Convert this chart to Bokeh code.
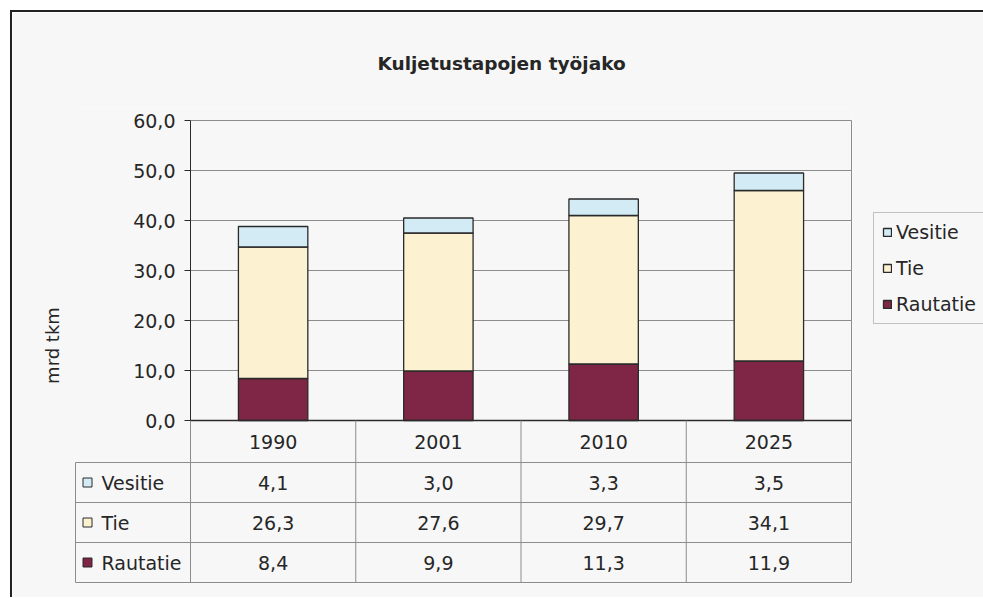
from bokeh.plotting import figure
from bokeh.models import (ColumnDataSource, Range1d, Legend, LegendItem, FixedTicker,
                          LinearAxis)
from bokeh.layouts import column
from bokeh.embed import file_html
from bokeh.resources import INLINE
from bokeh.core.properties import value

# ---------------- data ----------------
title_text = "Kuljetustapojen työjako"
y_label = "mrd tkm"
categories = ["1990", "2001", "2010", "2025"]
series = ["Rautatie", "Tie", "Vesitie"]
rautatie = [8.4, 9.9, 11.3, 11.9]
tie = [26.3, 27.6, 29.7, 34.1]
vesitie = [4.1, 3.0, 3.3, 3.5]
y_ticks = [0, 10, 20, 30, 40, 50, 60]

# ---------------- style ----------------
colors = ["#7f2545", "#fcf2d2", "#d2ebf4"]
FONT = "DejaVu Sans"
BG = "#f7f7f7"
TXT = "#262626"
GRID = "#8c8c8c"
DARK = "#2a2a2a"


def fmt(v):
    return f"{v:.1f}".replace(".", ",")


values = {"Rautatie": rautatie, "Tie": tie, "Vesitie": vesitie}
ncat = len(categories)
nser = len(series)
xc = [i + 0.5 for i in range(ncat)]
src = ColumnDataSource(dict(xc=xc, **values))

# layout geometry (pixels)
ppc = 661 / ncat          # pixels per category column
ppu = 300 / 60            # pixels per value unit
x0 = -115 / ppc           # left edge of the data-table label column
header_u = 42 / ppu       # category-label row height (value units)
row_u = 40 / ppu          # data-table row height (value units)
y_bottom = -header_u - nser * row_u
pad_x, pad_y = 1 / ppc, 1 / ppu
top_pad = 13 / ppu        # room above the top tick label

p = figure(x_range=Range1d(x0 - pad_x, ncat + pad_x),
           y_range=Range1d(y_bottom - pad_y, y_ticks[-1] + top_pad),
           frame_width=778, frame_height=476,
           min_border_left=62, min_border_right=130,
           min_border_top=95, min_border_bottom=14,
           output_backend="svg", toolbar_location=None,
           background_fill_color=BG, border_fill_color=BG,
           outline_line_color=None)

# the default category axis is replaced by the data table below
for ax in list(p.below):
    ax.visible = False
p.grid.visible = False

# title
p.title.text = title_text
p.title.align = "left"
p.title.offset = 303
p.title.standoff = 68
p.title.text_font = FONT
p.title.text_font_style = "bold"
p.title.text_font_size = "18.5px"
p.title.text_color = TXT

# horizontal grid lines of the plot area
gy = y_ticks[1:]
p.segment(x0=[0] * len(gy), y0=gy, x1=[ncat] * len(gy), y1=gy,
          line_color=GRID, line_width=1)
# right edge of the plot area
p.segment(x0=[ncat], y0=[0], x1=[ncat], y1=[y_ticks[-1]], line_color=GRID, line_width=1)

# bars
rs = p.vbar_stack(series, x="xc", width=0.42, source=src,
                  fill_color=colors, line_color=DARK, line_width=1.3)

# category axis baseline
p.segment(x0=[0], y0=[0], x1=[ncat], y1=[0], line_color=DARK, line_width=1.5)

# y axis drawn at x = 0
ya = p.left[0]
ya.fixed_location = 0
ya.bounds = (y_ticks[0], y_ticks[-1])
ya.ticker = FixedTicker(ticks=y_ticks)
ya.major_label_overrides = {float(t): fmt(t) for t in y_ticks}
ya.minor_tick_line_color = None
ya.major_tick_out = 6
ya.major_tick_in = 0
ya.major_tick_line_color = DARK
ya.axis_line_color = DARK
ya.major_label_standoff = 9
ya.major_label_text_font = FONT
ya.major_label_text_font_size = "19px"
ya.major_label_text_color = TXT

# axis title on its own (tick-less) axis in the left panel
ylab = LinearAxis(ticker=FixedTicker(ticks=[]), axis_label=y_label,
                  axis_line_color=None, major_tick_line_color=None,
                  minor_tick_line_color=None, major_tick_out=0, major_tick_in=0,
                  minor_tick_out=0, major_label_standoff=0,
                  axis_label_standoff=12, axis_label_text_font=FONT,
                  axis_label_text_font_size="18px",
                  axis_label_text_font_style="normal", axis_label_text_color=TXT)
p.add_layout(ylab, "left")

# legend (right of plot)
legend = Legend(items=[LegendItem(label=s, renderers=[r])
                       for s, r in reversed(list(zip(series, rs)))],
                location=(21, 259), orientation="vertical", padding=8, spacing=14,
                margin=0, glyph_width=10, glyph_height=10, label_height=20,
                label_standoff=4, label_text_font=FONT, label_text_font_size="19px",
                label_text_color=TXT, border_line_color=GRID,
                background_fill_color=BG, background_fill_alpha=1)
p.add_layout(legend, "right")

# ---------------- data table ----------------
row_lo = [-header_u - k * row_u for k in range(nser + 1)]      # row boundaries
# horizontal rules
p.segment(x0=[x0] * len(row_lo), y0=row_lo, x1=[ncat] * len(row_lo), y1=row_lo,
          line_color=GRID, line_width=1)
# vertical rules
vx = list(range(ncat + 1))
p.segment(x0=vx, y0=[y_bottom] * len(vx), x1=vx, y1=[0] * len(vx),
          line_color=GRID, line_width=1)
p.segment(x0=[x0], y0=[y_bottom], x1=[x0], y1=[-header_u], line_color=GRID, line_width=1)

# category labels
p.text(x=xc, y=[-header_u / 2] * ncat, text=categories, text_align="center",
       text_baseline="middle", text_font=value(FONT), text_font_size="19px",
       text_color=TXT)

# row order in table: Vesitie, Tie, Rautatie (top to bottom)
table_order = list(reversed(series))
row_c = {s: -header_u - (k + 0.5) * row_u for k, s in enumerate(table_order)}

cx, cy, ct = [], [], []
for s in table_order:
    for i, v in enumerate(values[s]):
        cx.append(xc[i])
        cy.append(row_c[s])
        ct.append(fmt(v))
p.text(x=cx, y=cy, text=ct, text_align="center", text_baseline="middle",
       text_font=value(FONT), text_font_size="19px", text_color=TXT)

# row keys and labels
ry = [row_c[s] for s in series]
p.scatter(x=[x0 + 12 / ppc] * nser, y=ry, marker="square", size=9,
          fill_color=colors, line_color=DARK, line_width=1)
p.text(x=[x0 + 26 / ppc] * nser, y=ry, text=series, text_align="left",
       text_baseline="middle", text_font=value(FONT), text_font_size="19px",
       text_color=TXT)

layout = column(p, styles={"margin-left": "10px", "margin-top": "10px",
                           "border-left": "2px solid #222",
                           "border-top": "2px solid #222"})

open("out.html", "w").write(file_html(layout, INLINE))
